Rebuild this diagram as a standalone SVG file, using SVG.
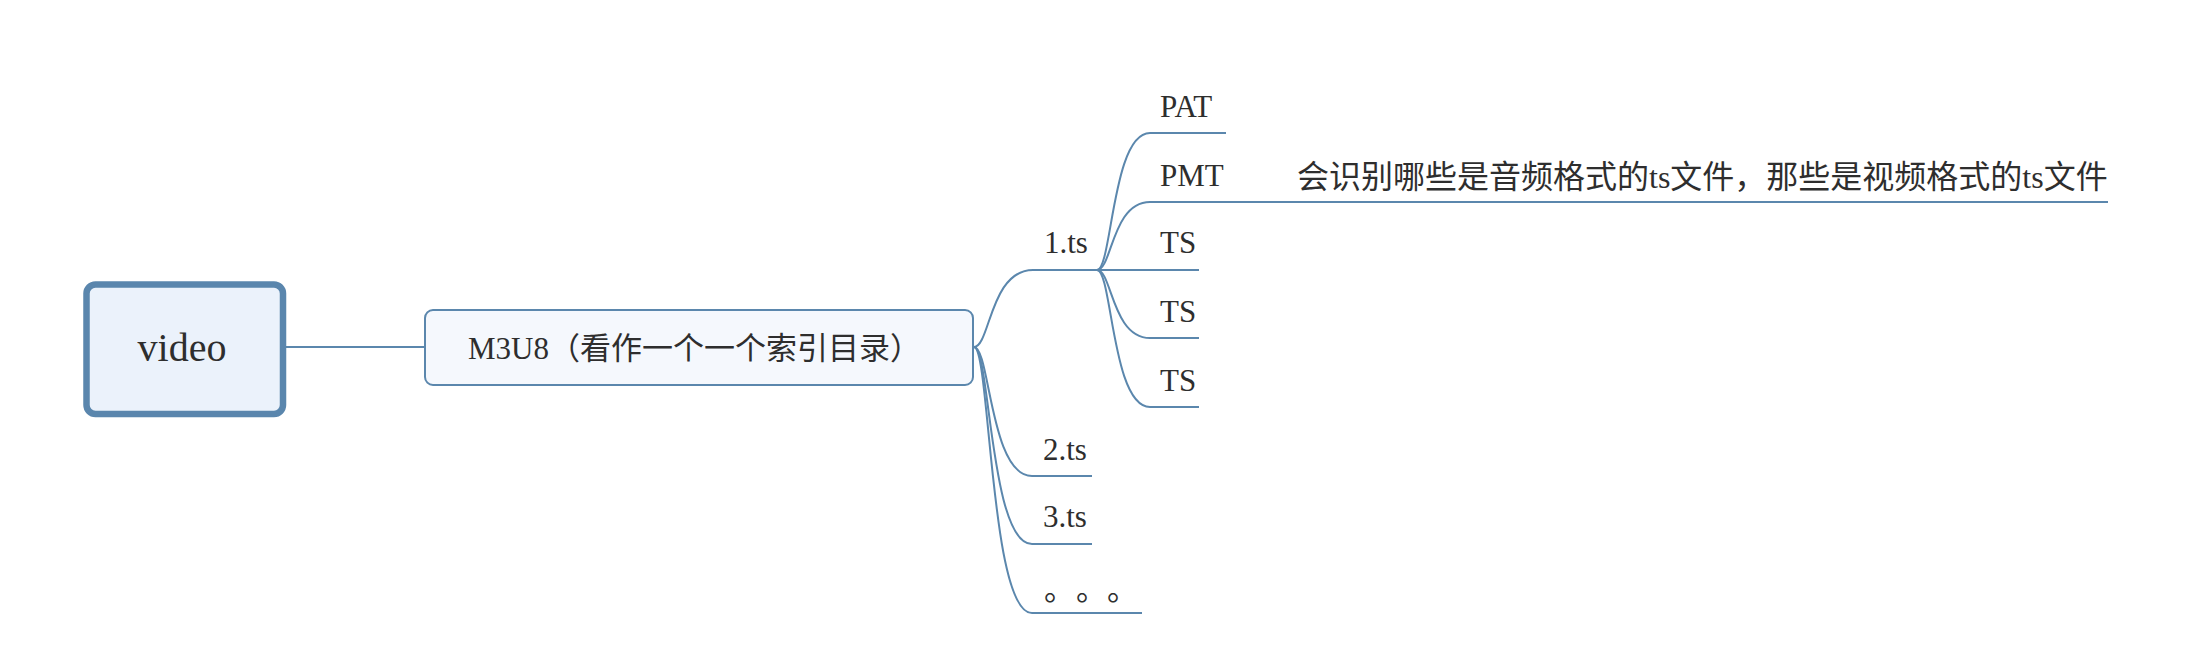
<svg xmlns="http://www.w3.org/2000/svg" width="2198" height="666" viewBox="0 0 2198 666">
<style>
.t{font-family:"Liberation Serif","Noto Sans CJK SC",serif;font-size:31px;fill:#2e2e2e}
.c{font-family:"Liberation Serif","Noto Sans CJK SC",serif;font-size:32px;fill:#2e2e2e}
.e{font-family:"Noto Sans CJK SC",sans-serif;font-size:31px;fill:#2e2e2e}
.u{stroke:#5b87ad;stroke-width:2;fill:none}
.k{stroke:#5b87ad;stroke-width:2;fill:none}
</style>
<rect width="2198" height="666" fill="#ffffff"/>
<g id="connectors">
<path class="k" d="M286 347 H425"/>
<path class="k" d="M974 347 C990 347 990 270 1033 270"/>
<path class="k" d="M974 347 C990 347 990 476 1032 476"/>
<path class="k" d="M974 347 C990 347 990 544 1032 544"/>
<path class="k" d="M974 347 C990 347 990 613 1032 613"/>
<path class="k" d="M1097 270 C1112 270 1112 133 1150 133"/>
<path class="k" d="M1097 270 C1112 270 1112 202 1150 202"/>
<path class="k" d="M1097 270 H1150"/>
<path class="k" d="M1097 270 C1112 270 1112 338 1150 338"/>
<path class="k" d="M1097 270 C1112 270 1112 407 1150 407"/>
<path class="k" d="M1226 202 H1290"/>
</g>
<g id="node-video">
<rect x="86.5" y="284.5" width="196.5" height="129.5" rx="9" fill="#ebf2fb" stroke="#5a86ad" stroke-width="6.5"/>
<text x="182" y="361" font-family="Liberation Serif, serif" font-size="40" fill="#2e2e2e" text-anchor="middle">video</text>
</g>
<g id="node-m3u8">
<rect x="425" y="310" width="548" height="75" rx="8" fill="#f5f8fd" stroke="#5b87ad" stroke-width="2"/>
<text class="t" x="468" y="359">M3U8（看作一个一个索引目录）</text>
</g>
<g id="node-1ts">
<text class="t" x="1044" y="253">1.ts</text>
<path class="u" d="M1033 270 H1097"/>
</g>
<g id="node-pat">
<text class="t" x="1160" y="117">PAT</text>
<path class="u" d="M1150 133 H1226"/>
</g>
<g id="node-pmt">
<text class="t" x="1160" y="186">PMT</text>
<path class="u" d="M1150 202 H1226"/>
</g>
<g id="node-pmt-note">
<text class="c" x="1297" y="188">会识别哪些是音频格式的ts文件，那些是视频格式的ts文件</text>
<path class="u" d="M1290 202 H2108"/>
</g>
<g id="node-ts1">
<text class="t" x="1160" y="253">TS</text>
<path class="u" d="M1150 270 H1199"/>
</g>
<g id="node-ts2">
<text class="t" x="1160" y="322">TS</text>
<path class="u" d="M1150 338 H1199"/>
</g>
<g id="node-ts3">
<text class="t" x="1160" y="391">TS</text>
<path class="u" d="M1150 407 H1199"/>
</g>
<g id="node-2ts">
<text class="t" x="1043" y="460">2.ts</text>
<path class="u" d="M1032 476 H1092"/>
</g>
<g id="node-3ts">
<text class="t" x="1043" y="527">3.ts</text>
<path class="u" d="M1032 544 H1092"/>
</g>
<g id="node-more">
<text class="e" x="1044 1076 1107" y="600">。。。</text>
<path class="u" d="M1032 613 H1142"/>
</g>
</svg>
